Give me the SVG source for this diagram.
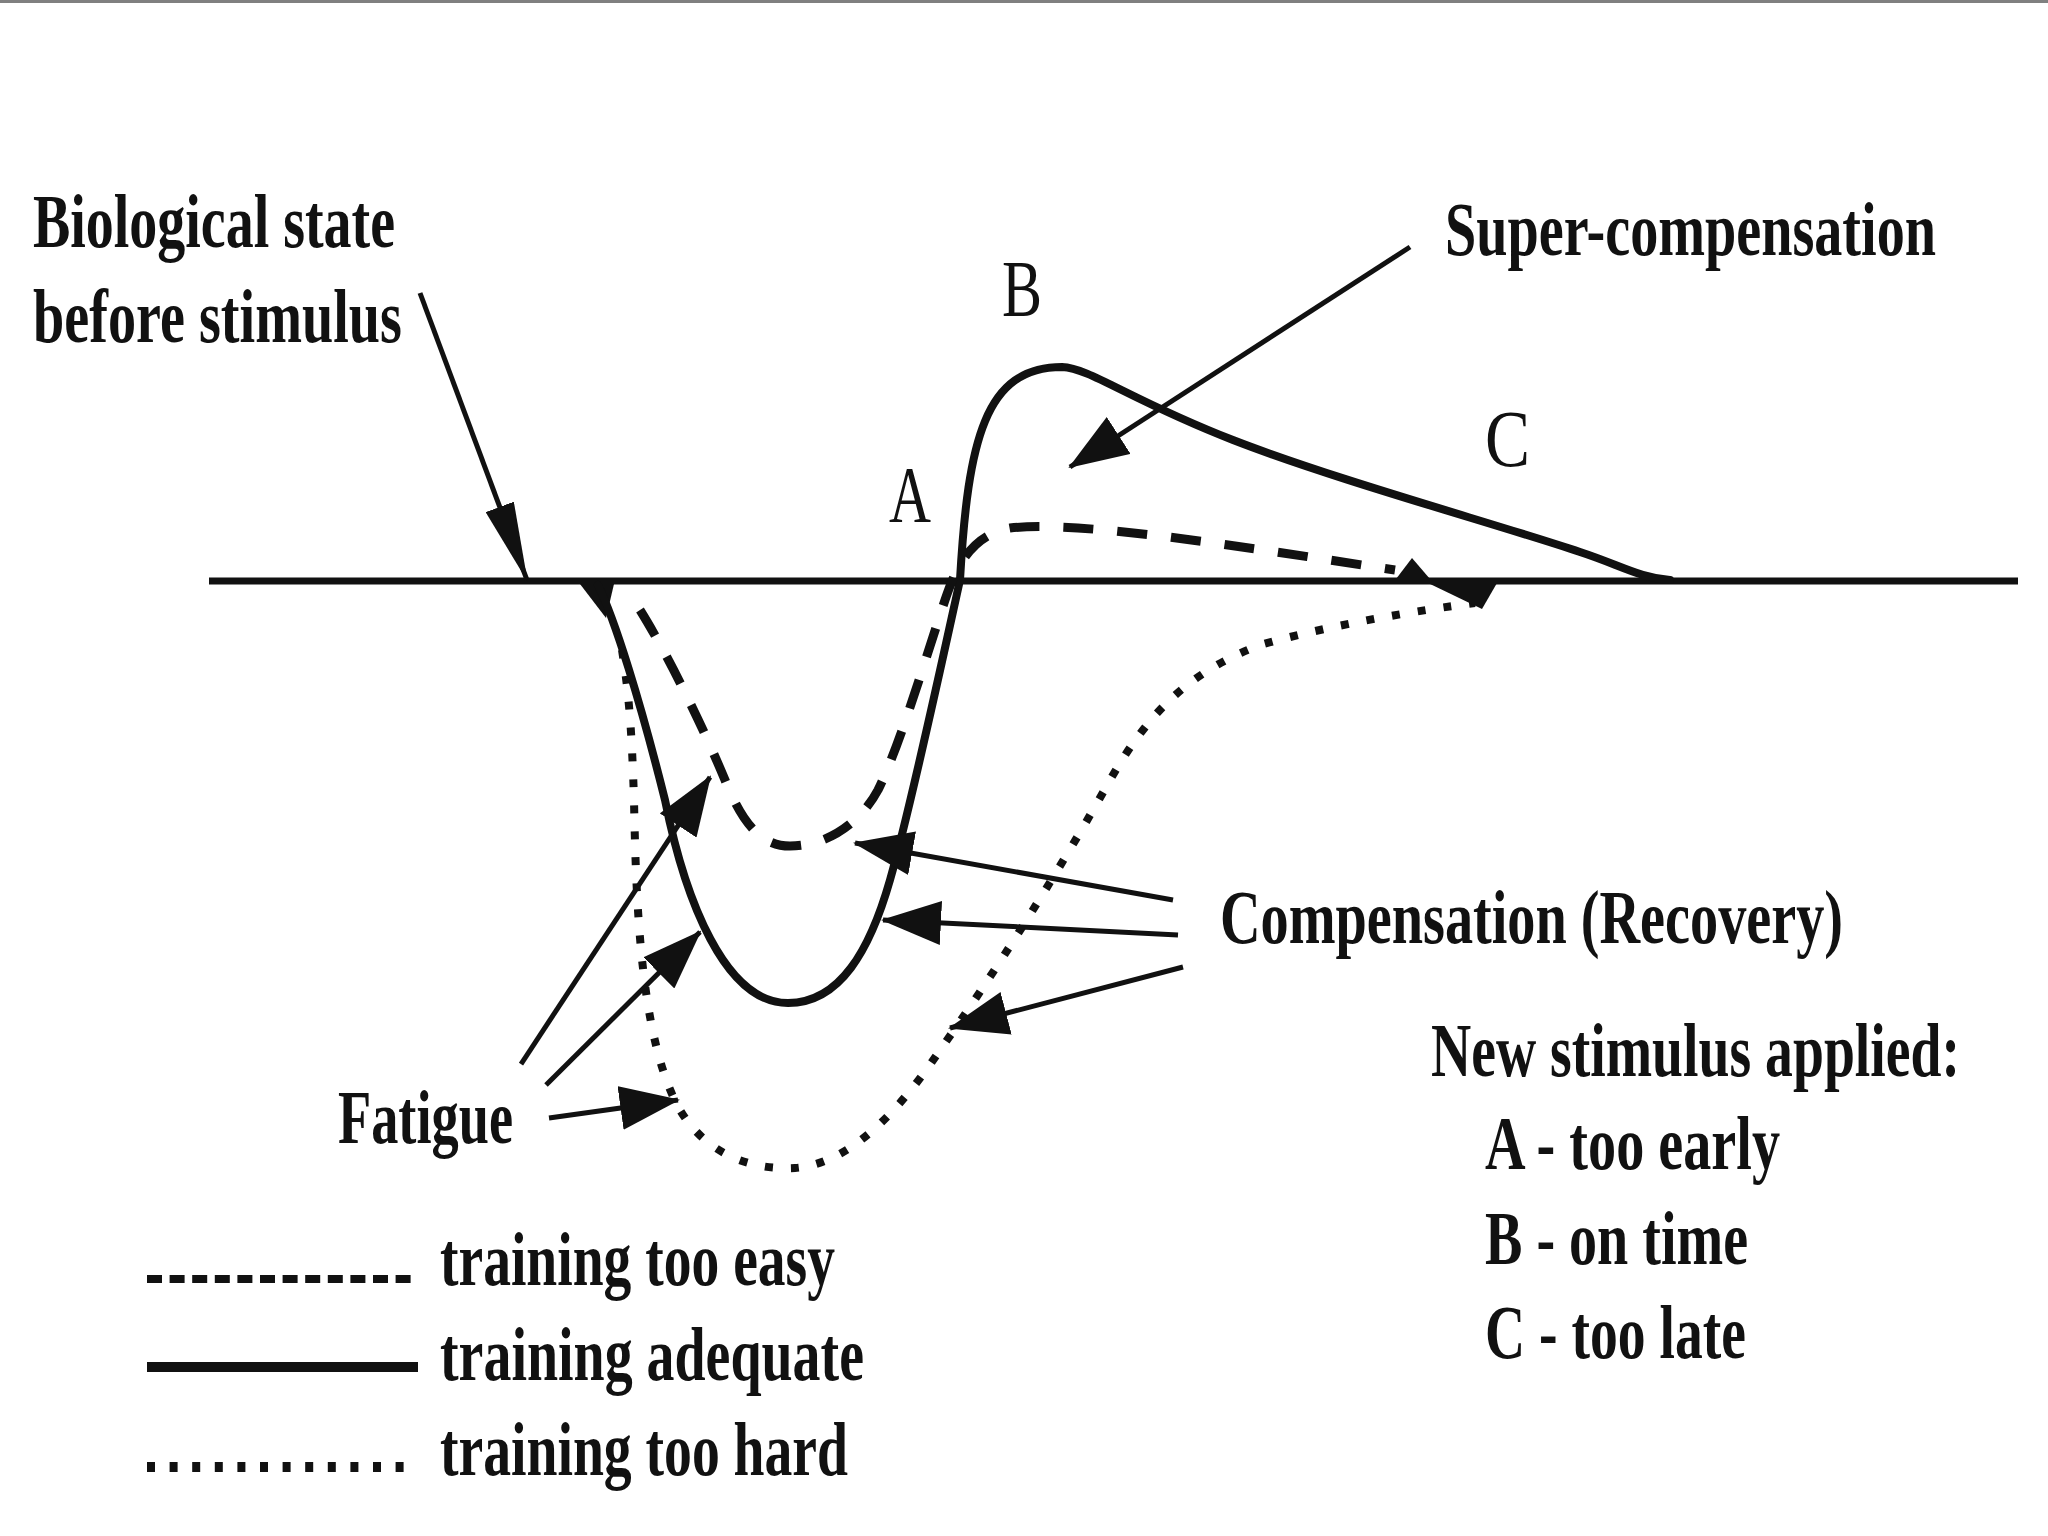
<svg xmlns="http://www.w3.org/2000/svg" width="2048" height="1536" viewBox="0 0 2048 1536">
  <defs>
    <style>
      .t { font-family: "Liberation Serif", "Times New Roman", serif; font-weight: bold; font-size: 76px; fill: #111; }
      .l { font-family: "Liberation Serif", "Times New Roman", serif; font-weight: normal; font-size: 80px; fill: #111; }
      .ln { fill: none; stroke: #111; stroke-linecap: butt; }
      .arrow { fill: none; stroke: #111; stroke-width: 5; }
      .solid { fill: none; stroke: #111; stroke-width: 8; stroke-linecap: round; }
      .dashed { fill: none; stroke: #111; stroke-width: 9; stroke-dasharray: 30 24; }
      .dotted { fill: none; stroke: #111; stroke-width: 8; stroke-dasharray: 8 18; }
    </style>
    <marker id="head" viewBox="0 0 60 44" markerWidth="60" markerHeight="44" refX="58" refY="22" orient="auto" markerUnits="userSpaceOnUse">
      <path d="M0,0 L60,22 L0,44 z" fill="#111"/>
    </marker>
    <marker id="headNarrow" viewBox="0 0 80 30" markerWidth="80" markerHeight="30" refX="78" refY="15" orient="auto" markerUnits="userSpaceOnUse">
      <path d="M0,0 L80,15 L0,30 z" fill="#111"/>
    </marker>
  </defs>

  <rect width="2048" height="1536" fill="#fff"/>
  <rect x="0" y="0" width="2048" height="3" fill="#808080"/>

  <!-- baseline (biological state before stimulus) -->
  <g id="baseline">
    <line class="ln" x1="209" y1="581" x2="2018" y2="581" stroke-width="7"/>
  </g>

  <!-- curves -->
  <g id="curve-adequate">
    <polygon points="580,584 614,584 606,618" fill="#111"/>
    <path class="solid" d="M 598 585 C 615 620, 640 700, 665 800 C 685 900, 725 1003, 788 1003 C 840 1003, 870 950, 890 880 C 910 810, 938 680, 960 580 C 968 440, 985 367, 1062 367 C 1090 368, 1130 400, 1233 440 C 1336 480, 1500 525, 1580 552 C 1620 565, 1640 578, 1670 580"/>
  </g>
  <g id="curve-too-easy">
    <path class="dashed" d="M 640 610 C 665 650, 700 720, 725 780 C 745 830, 765 846, 790 846 C 830 846, 862 820, 878 790 C 900 745, 925 660, 945 600 C 955 570, 970 535, 1010 528 C 1080 520, 1250 548, 1395 570"/>
    <polygon points="1396,579 1430,579 1412,558" fill="#111"/>
  </g>
  <g id="curve-too-hard">
    <path class="dotted" d="M 622 650 C 630 700, 632 740, 634 800 C 636 900, 640 1040, 680 1110 C 710 1160, 760 1170, 795 1168 C 850 1164, 900 1110, 940 1050 C 990 980, 1060 870, 1110 780 C 1150 710, 1190 672, 1260 645 C 1330 625, 1420 610, 1475 603"/>
    <polygon points="1428,583 1497,583 1482,609" fill="#111"/>
  </g>

  <!-- labels -->
  <g id="label-biological">
    <text class="t" x="33" y="247" textLength="362" lengthAdjust="spacingAndGlyphs">Biological state</text>
    <text class="t" x="33" y="342" textLength="369" lengthAdjust="spacingAndGlyphs">before stimulus</text>
  </g>
  <g id="label-supercompensation">
    <text class="t" x="1445" y="255" textLength="491" lengthAdjust="spacingAndGlyphs">Super-compensation</text>
  </g>
  <g id="label-A">
    <text class="l" x="889" y="522" textLength="42" lengthAdjust="spacingAndGlyphs">A</text>
  </g>
  <g id="label-B">
    <text class="l" x="1002" y="316" textLength="40" lengthAdjust="spacingAndGlyphs">B</text>
  </g>
  <g id="label-C">
    <text class="l" x="1485" y="466" textLength="45" lengthAdjust="spacingAndGlyphs">C</text>
  </g>
  <g id="label-compensation">
    <text class="t" x="1220" y="943" textLength="623" lengthAdjust="spacingAndGlyphs">Compensation (Recovery)</text>
  </g>
  <g id="label-new-stimulus">
    <text class="t" x="1431" y="1076" textLength="529" lengthAdjust="spacingAndGlyphs">New stimulus applied:</text>
    <text class="t" x="1485" y="1169" textLength="295" lengthAdjust="spacingAndGlyphs">A - too early</text>
    <text class="t" x="1485" y="1264" textLength="263" lengthAdjust="spacingAndGlyphs">B - on time</text>
    <text class="t" x="1485" y="1358" textLength="261" lengthAdjust="spacingAndGlyphs">C - too late</text>
  </g>
  <g id="label-fatigue">
    <text class="t" x="338" y="1143" textLength="175" lengthAdjust="spacingAndGlyphs">Fatigue</text>
  </g>

  <!-- legend -->
  <g id="legend">
    <line x1="147" y1="1279" x2="418" y2="1279" stroke="#111" stroke-width="8" stroke-dasharray="15 7.6"/>
    <line x1="147" y1="1367" x2="418" y2="1367" stroke="#111" stroke-width="10"/>
    <line x1="147" y1="1467" x2="418" y2="1467" stroke="#111" stroke-width="10" stroke-dasharray="8 14.6"/>
    <text class="t" x="440" y="1285" textLength="395" lengthAdjust="spacingAndGlyphs">training too easy</text>
    <text class="t" x="440" y="1380" textLength="424" lengthAdjust="spacingAndGlyphs">training adequate</text>
    <text class="t" x="440" y="1475" textLength="408" lengthAdjust="spacingAndGlyphs">training too hard</text>
  </g>

  <!-- connectors -->
  <g id="connectors">
    <line class="arrow" x1="420" y1="293" x2="527" y2="580" marker-end="url(#headNarrow)"/>
    <line class="arrow" x1="1410" y1="247" x2="1070" y2="467" marker-end="url(#head)"/>
    <line class="arrow" x1="521" y1="1064" x2="710" y2="777" marker-end="url(#head)"/>
    <line class="arrow" x1="546" y1="1085" x2="700" y2="932" marker-end="url(#head)"/>
    <line class="arrow" x1="549" y1="1118" x2="678" y2="1100" marker-end="url(#head)"/>
    <line class="arrow" x1="1173" y1="900" x2="855" y2="843" marker-end="url(#head)"/>
    <line class="arrow" x1="1178" y1="935" x2="883" y2="920" marker-end="url(#head)"/>
    <line class="arrow" x1="1183" y1="967" x2="950" y2="1028" marker-end="url(#head)"/>
  </g>
</svg>
